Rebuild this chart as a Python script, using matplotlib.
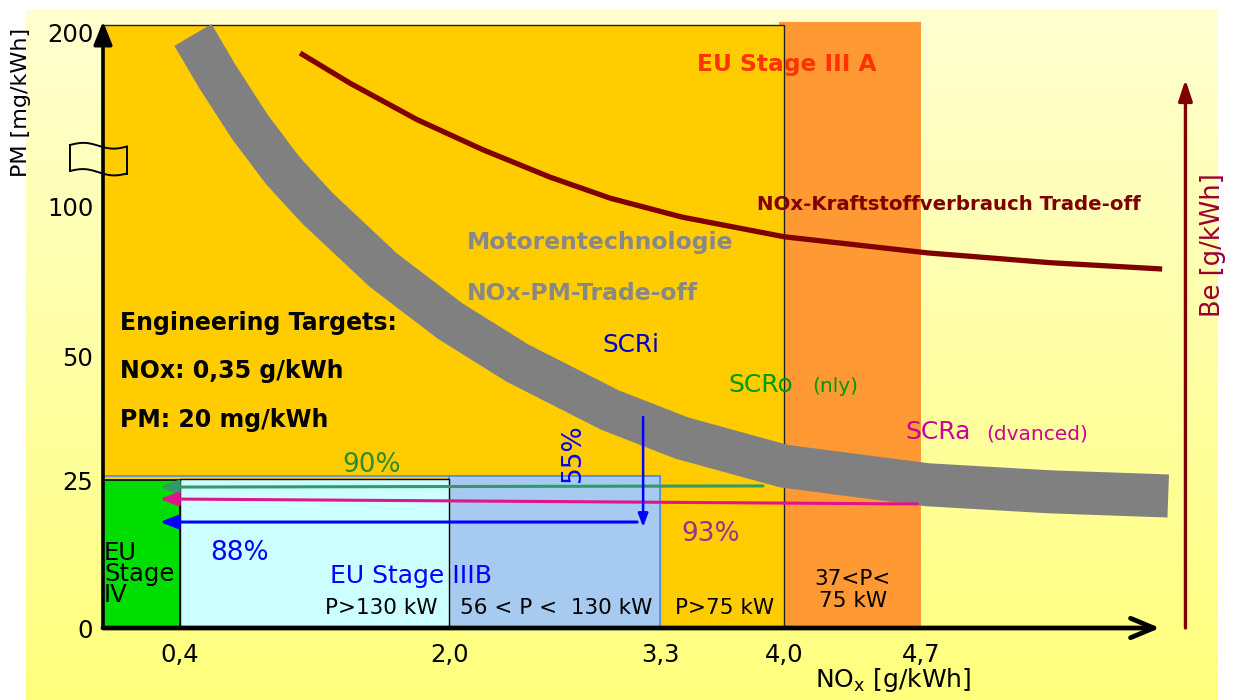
import numpy as np
import matplotlib
matplotlib.use('Agg')
import matplotlib.pyplot as plt
import matplotlib.transforms as mtransforms
from matplotlib.patches import Rectangle

plt.rcParams['font.family'] = ['DejaVu Sans']

W, H = 1238, 700

# tick values and labels of the NOx and PM axes
nox_ticks = [0.4, 2.0, 3.3, 4.0, 4.7]
nox_labels = ['0,4', '2,0', '3,3', '4,0', '4,7']
pm_ticks = [0, 25, 50, 100, 200]
pm_labels = ['0', '25', '50', '100', '200']

# stage limits (NOx g/kWh, PM mg/kWh)
stage4_nox = 0.4
stage3b_nox = [2.0, 3.3]
stage3b_pm = [25.2, 25.8]
stage3a_nox = [4.0, 4.7]
stage3a_pm = [204, 205.7]
stage3b_frame_pm = 25.8

# grey NOx-PM trade-off band (motor technology)
band_nox = [0.477, 0.620, 0.816, 1.013, 1.215, 1.608, 2.006, 2.419, 2.992,
            3.424, 4.0, 4.731, 5.359, 5.962]
band_pm = [198.3, 174.9, 145.7, 120.6, 99.7, 79.0, 62.0, 48.8, 39.2,
           33.5, 27.8, 24.2, 23.0, 22.3]

# NOx - fuel consumption trade-off (Be, no scale given)
be_nox = [1.114, 1.411, 1.810, 2.209, 2.622, 2.992, 3.424, 4.0, 4.731, 5.359, 5.931]
be_val = [242.0, 237.7, 232.5, 228.2, 224.3, 221.3, 218.6, 215.8, 213.5, 212.1, 211.2]

# SCR reduction arrows: (start nox, start pm, end nox, end pm)
scro_arrow = (3.88, 24.0, 0.296, 23.8)
scra_arrow = (4.68, 20.95, 0.296, 21.8)
scri_down = (3.195, 37.8, 3.195, 17.06)
scri_arrow = (3.158, 17.9, 0.296, 17.9)

# piecewise axis mapping (data -> pixels from the axis origin)
xk_data = [-1.0, 0.0, 0.4, 2.0, 3.3, 4.0, 4.7, 7.0]
xk_pix = [-192.5, 0, 77, 346, 557, 681, 818, 1268]
yk_data = [-20, 0, 25, 50, 100, 200, 260]
yk_pix = [-118.4, 0, 148, 271, 421, 596, 701]


def fx(v):
    return np.interp(v, xk_data, xk_pix)


def fx_inv(v):
    return np.interp(v, xk_pix, xk_data)


def fy(v):
    return np.interp(v, yk_data, yk_pix)


def fy_inv(v):
    return np.interp(v, yk_pix, yk_data)


fig = plt.figure(figsize=(W / 100, H / 100), dpi=100)
fig.patch.set_facecolor('white')
pix = mtransforms.Affine2D().scale(1 / W, -1 / H).translate(0, 1) + fig.transFigure

# background gradient
bg = fig.add_axes([0, 0, 1, 1], zorder=0)
grad = np.linspace(0, 1, 256).reshape(-1, 1)
top = np.array([255, 255, 208]) / 255
bot = np.array([255, 255, 125]) / 255
img = top + (bot - top) * grad[:, :, None]
img = np.repeat(img, 2, axis=1)
bg.imshow(img, extent=(26, 1218, 700, 10), aspect='auto')
bg.set_xlim(0, W)
bg.set_ylim(H, 0)
bg.axis('off')

# main axes: origin at (103, 628) px, top at 25 px, arrow end at 1160 px
ax = fig.add_axes([103 / W, (H - 628) / H, 1057 / W, 603 / H], zorder=1)
ax.set_facecolor('none')
ax.set_xscale('function', functions=(fx, fx_inv))
ax.set_yscale('function', functions=(fy, fy_inv))
ax.set_xlim(0, 5.92)
ax.set_ylim(0, 204)
for s in ax.spines.values():
    s.set_visible(False)

# stage regions
ax.add_patch(Rectangle((stage3a_nox[0] - 0.03, 0), stage3a_nox[1] - stage3a_nox[0] + 0.03, stage3a_pm[1],
                       facecolor='#FF9933', edgecolor='none', zorder=1, clip_on=False))
ax.add_patch(Rectangle((0, 0), stage3a_nox[0], stage3a_pm[0],
                       facecolor='#FFCC00', edgecolor='#222222', lw=1.0, zorder=2, clip_on=False))
ax.add_patch(Rectangle((0, 0), stage3b_nox[1], stage3b_frame_pm,
                       facecolor='none', edgecolor='#5588EE', lw=1.2, zorder=3))
ax.add_patch(Rectangle((stage3b_nox[0], 0), stage3b_nox[1] - stage3b_nox[0], stage3b_pm[1],
                       facecolor='#A6CAF0', edgecolor='#5588EE', lw=1.2, zorder=3))
ax.add_patch(Rectangle((stage4_nox, 0), stage3b_nox[0] - stage4_nox, stage3b_pm[0],
                       facecolor='#CCFFFF', edgecolor='black', lw=1.0, zorder=3))
ax.add_patch(Rectangle((0, 0), stage4_nox, 25,
                       facecolor='#00DD00', edgecolor='black', lw=1.2, zorder=3))

# grey trade-off band
ax.plot(band_nox, band_pm, color='#808080', lw=31, solid_capstyle='butt',
        solid_joinstyle='round', zorder=4, clip_on=False)

# SCR arrows
for arr, col in [(scro_arrow, '#339966'), (scra_arrow, '#E0148C'), (scri_arrow, '#0000FF')]:
    ax.annotate('', xy=(arr[2], arr[3]), xytext=(arr[0], arr[1]),
                arrowprops=dict(arrowstyle='-|>,head_length=0.9,head_width=0.35', color=col,
                                lw=2.2, mutation_scale=12, shrinkA=0, shrinkB=0), zorder=5)
ax.annotate('', xy=(scri_down[2], scri_down[3]), xytext=(scri_down[0], scri_down[1]),
            arrowprops=dict(arrowstyle='-|>,head_length=0.8,head_width=0.3', color='#0000FF',
                            lw=1.8, mutation_scale=10, shrinkA=0, shrinkB=0), zorder=5)

# axis arrows
ax.annotate('', xy=(0, 1.006), xytext=(0, 0), xycoords='axes fraction',
            arrowprops=dict(arrowstyle='-|>,head_length=1.0,head_width=0.4', color='black',
                            lw=2.6, mutation_scale=14, shrinkA=0, shrinkB=0), annotation_clip=False)
ax.annotate('', xy=(1.0, 0), xytext=(0, 0), xycoords='axes fraction',
            arrowprops=dict(arrowstyle='->,head_length=1.2,head_width=0.5', color='black',
                            lw=3.4, mutation_scale=14, shrinkA=0, shrinkB=0), annotation_clip=False)

ax.set_xticks(nox_ticks)
ax.set_xticklabels(nox_labels)
ax.set_yticks(pm_ticks)
ax.set_yticklabels(pm_labels)
ax.tick_params(axis='both', length=0, labelsize=17.5)
ax.tick_params(axis='x', pad=11)
ax.tick_params(axis='y', pad=7)

# second axis for fuel consumption Be
ax2 = ax.twinx()
ax2.set_facecolor('none')
ax2.set_ylim(160, 246)
for s in ax2.spines.values():
    s.set_visible(False)
ax2.set_yticks([])
ax2.plot(be_nox, be_val, color='#800000', lw=3.8, solid_capstyle='butt', zorder=6, clip_on=False)
ax2.annotate('', xy=(6.05, 238.2), xytext=(6.05, 160),
             arrowprops=dict(arrowstyle='-|>,head_length=0.9,head_width=0.3', color='#800000',
                             lw=2.4, mutation_scale=14, shrinkA=0, shrinkB=0), annotation_clip=False)

# axis break mark on the PM axis
t = np.linspace(0, 1, 40)
wx = 70 + 57 * t
for y0, dy in [(145, 1.5), (171, 2.5)]:
    fig.add_artist(plt.Line2D(wx, y0 - 2.5 * np.sin(2 * np.pi * t) + dy * t,
                              color='black', lw=1.4, transform=pix))
fig.add_artist(plt.Line2D([70, 70], [145, 171], color='black', lw=1.4, transform=pix))
fig.add_artist(plt.Line2D([127, 127], [146.5, 173.5], color='black', lw=1.4, transform=pix))


# labels
def txt(x, y, s, **kw):
    kw.setdefault('va', 'center')
    fig.text(x, y, s, transform=pix, **kw)


txt(21, 102, 'PM [mg/kWh]', rotation=90, ha='center', fontsize=16)
txt(1213, 245, 'Be [g/kWh]', rotation=90, ha='center', fontsize=18.5, color='#990033')
txt(815, 680, 'NO$_\\mathregular{x}$ [g/kWh]', ha='left', fontsize=18)

txt(697, 65, 'EU Stage III A', ha='left', fontsize=16.8, fontweight='bold', color='#FF3300')
txt(757, 205, 'NOx-Kraftstoffverbrauch Trade-off', ha='left', fontsize=14.2, fontweight='bold',
    color='#800000')
txt(467, 243, 'Motorentechnologie', ha='left', fontsize=16.9, fontweight='bold', color='#888888')
txt(467, 294, 'NOx-PM-Trade-off', ha='left', fontsize=16.9, fontweight='bold', color='#888888')
txt(120, 323, 'Engineering Targets:', ha='left', fontsize=17, fontweight='bold')
txt(120, 371, 'NOx: 0,35 g/kWh', ha='left', fontsize=17, fontweight='bold')
txt(120, 420, 'PM: 20 mg/kWh', ha='left', fontsize=17, fontweight='bold')

txt(602, 345, 'SCRi', ha='left', fontsize=17.8, color='#0000CC')
txt(728, 385, 'SCRo', ha='left', fontsize=18, color='#009900')
txt(812, 387, '(nly)', ha='left', fontsize=14.5, color='#009900')
txt(905, 432, 'SCRa', ha='left', fontsize=18, color='#CC0099')
txt(986, 434, '(dvanced)', ha='left', fontsize=14.5, color='#CC0099')

txt(372, 465, '90%', ha='center', fontsize=19, color='#2E8B2E')
txt(240, 553, '88%', ha='center', fontsize=19, color='#0000FF')
txt(711, 534, '93%', ha='center', fontsize=19, color='#993388')
txt(573, 453, '55%', ha='center', rotation=90, fontsize=19, color='#0000FF')

txt(330, 576, 'EU Stage IIIB', ha='left', fontsize=18, color='#0000FF')
txt(104, 574, 'EU\nStage\nIV', ha='left', fontsize=17.5, linespacing=0.85)
txt(381, 608, 'P>130 kW', ha='center', fontsize=15.5)
txt(556, 608, '56 < P <  130 kW', ha='center', fontsize=15.5)
txt(725, 608, 'P>75 kW', ha='center', fontsize=15.5)
txt(853, 590, '37<P<\n75 kW', ha='center', fontsize=15.5, linespacing=1.1)

fig.savefig('out.png', dpi=100)
